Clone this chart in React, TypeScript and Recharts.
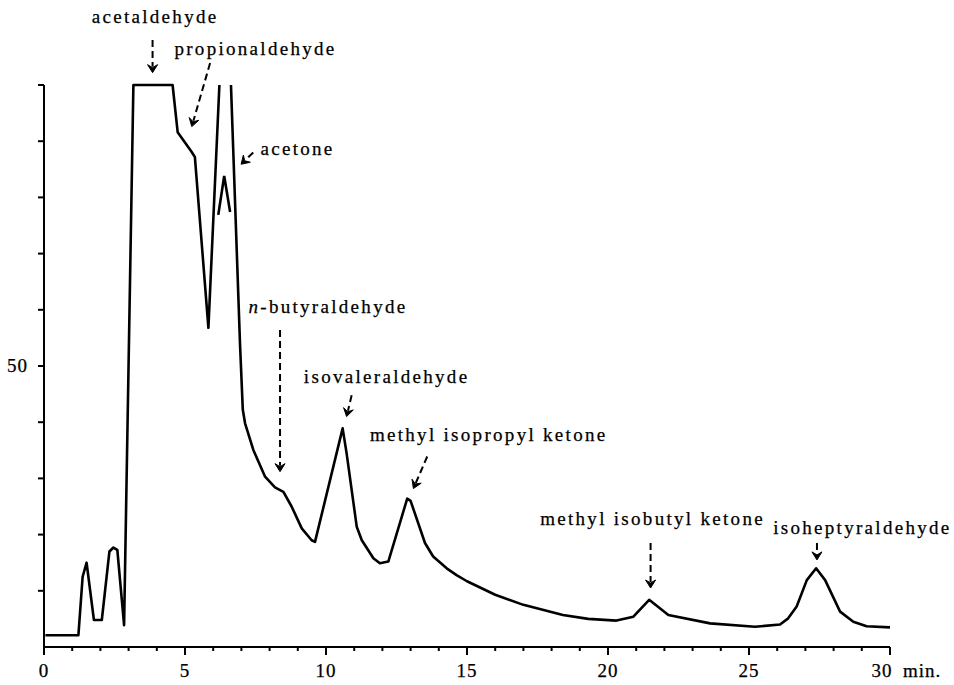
import { LineChart, Line, XAxis, YAxis, ReferenceDot, ReferenceLine } from "recharts";

const FONT = "Liberation Serif, DejaVu Serif, serif";

// recorder trace: retention time (min) and pen response (% of full scale)
const traceTime = [
  0.05, 1.22, 1.37, 1.51, 1.77, 2.05, 2.32, 2.46, 2.6, 2.84, 3.17, 4.56, 4.74, 5.22, 5.35, 5.83, 6.22,
  6.42, 6.63, 6.95, 7.05, 7.13, 7.42, 7.84, 8.19, 8.49, 8.78, 9.14, 9.49, 9.61, 10.59, 10.73, 11.09,
  11.27, 11.68, 11.91, 12.21, 12.88, 13.0, 13.51, 13.8, 14.28, 14.63, 15.0, 16.0, 17.0, 18.4,
  19.3, 20.3, 20.9, 21.46, 22.14, 23.62, 25.21, 26.1, 26.39, 26.69, 27.05, 27.38, 27.7, 28.23, 28.7,
  29.17, 30.0,
];
const traceSignal = [
  2.1, 2.1, 12.5, 15.0, 4.8, 4.8, 17.0, 17.7, 17.3, 3.9, 100, 100, 91.6, 88.2, 87.2, 56.8, 100,
  null, 100, 54.0, 42.2, 39.8, 35.1, 30.3, 28.4, 27.6, 25.0, 21.1, 19.0, 18.7, 38.9, 34.5, 21.4,
  19.0, 15.8, 14.9, 15.2, 26.4, 26.0, 18.5, 16.1, 14.0, 12.8, 11.7, 9.3, 7.5, 5.7,
  5.0, 4.7, 5.4, 8.4, 5.7, 4.2, 3.6, 4.0, 5.1, 7.2, 11.9, 14.0, 11.9, 6.3, 4.5,
  3.7, 3.5,
];

// the short stroke the pen left while the acetone peak was off scale
const offScaleTime = [6.18, 6.39, 6.6];
const offScaleSignal = [76.9, 83.8, 77.4];

const minuteTicks = [
  0, 1, 2, 3, 4, 5, 6, 7, 8, 9, 10, 11, 12, 13, 14, 15, 16, 17, 18, 19, 20, 21, 22, 23, 24, 25, 26,
  27, 28, 29, 30,
];
const levelTicks = [10, 20, 30, 40, 50, 60, 70, 80, 90, 100];

const compounds = [
  "acetaldehyde",
  "propionaldehyde",
  "acetone",
  "n-butyraldehyde",
  "isovaleraldehyde",
  "methyl isopropyl ketone",
  "methyl isobutyl ketone",
  "isoheptyraldehyde",
];
// [time, level] of each name's baseline centre
const labelAt: [number, number][] = [
  [3.94, 111.0], [7.5, 105.3], [8.99, 87.5], [10.07, 59.4],
  [12.15, 47.0], [15.77, 36.7], [21.58, 21.7], [29.02, 20.1],
];
const arrowFrom: [number, number][] = [
  [3.85, 108.0], [5.89, 103.9], [7.42, 88.0], [8.37, 56.4],
  [10.91, 44.8], [13.59, 33.9], [21.51, 18.5], [27.41, 18.5],
];
const arrowTo: [number, number][] = [
  [3.85, 102.2], [5.24, 92.6], [6.99, 85.9], [8.37, 31.2],
  [10.73, 41.0], [13.1, 28.2], [21.51, 10.5], [27.41, 15.5],
];

const trace = traceTime.map((t, i) => ({ t, signal: traceSignal[i] }));
const offScale = offScaleTime.map((t, i) => ({ t, signal: offScaleSignal[i] }));

const Label = ({ x, y, anchor, spacing = 2.3, children }: any) => (
  <text
    x={x}
    y={y}
    textAnchor={anchor}
    fontFamily={FONT}
    fontSize={19}
    letterSpacing={spacing}
    fill="#000"
    stroke="#000"
    strokeWidth={0.25}
  >
    {children}
  </text>
);

const XTick = ({ x, y, payload }: any) => {
  const v = payload.value;
  const major = v % 5 === 0;
  return (
    <g>
      <line x1={x} x2={x} y1={y} y2={y + (major ? 8 : 4)} stroke="#000" strokeWidth={2} />
      {major && (
        <Label x={v === 30 ? x - 8 : x} y={y + 30} anchor="middle" spacing={1}>
          {v}
        </Label>
      )}
      {v === 30 && (
        <Label x={x + 13} y={y + 30} anchor="start" spacing={1}>
          min.
        </Label>
      )}
    </g>
  );
};

const YTick = ({ x, y, payload }: any) =>
  payload.value === 50 ? (
    <Label x={x} y={y + 6} anchor="end" spacing={1}>
      50
    </Label>
  ) : (
    <g />
  );

const Arrow = ({ x1, y1, x2, y2 }: any) => {
  const len = Math.hypot(x2 - x1, y2 - y1) || 1;
  const dx = (x2 - x1) / len;
  const dy = (y2 - y1) / len;
  const nx = -dy;
  const ny = dx;
  const head = `${x2},${y2} ${x2 - dx * 8 + nx * 5},${y2 - dy * 8 + ny * 5} ${x2 - dx * 5},${y2 - dy * 5} ${x2 - dx * 8 - nx * 5},${y2 - dy * 8 - ny * 5}`;
  return (
    <g>
      <line
        x1={x1}
        y1={y1}
        x2={x2 - dx * 6}
        y2={y2 - dy * 6}
        stroke="#000"
        strokeWidth={2}
        strokeDasharray="7 4"
      />
      <polygon points={head} fill="#000" stroke="#000" strokeWidth={1} strokeLinejoin="round" />
    </g>
  );
};

const NameLabel = (name: string) => (p: any) => (
  <Label x={p.cx} y={p.cy} anchor="middle">
    {name.startsWith("n-") ? (
      <>
        <tspan fontStyle="italic">n</tspan>
        {name.slice(1)}
      </>
    ) : (
      name
    )}
  </Label>
);

export default function App() {
  return (
    <div style={{ position: "absolute", left: 0, top: 0, width: 954, height: 685, background: "#fff" }}>
      <LineChart width={954} height={685} margin={{ top: 85, right: 64, bottom: 0, left: 0 }}>
        <XAxis
          type="number"
          dataKey="t"
          domain={[0, 30]}
          ticks={minuteTicks}
          interval={0}
          height={38}
          tickSize={0}
          tickMargin={0}
          tickLine={false}
          axisLine={{ stroke: "#000", strokeWidth: 2 }}
          tick={XTick}
        />
        <YAxis
          type="number"
          domain={[0, 100]}
          ticks={levelTicks}
          interval={0}
          width={44}
          tickSize={6}
          tickMargin={10}
          axisLine={{ stroke: "#000", strokeWidth: 2 }}
          tickLine={{ stroke: "#000", strokeWidth: 2 }}
          tick={YTick}
        />
        <Line
          data={trace}
          dataKey="signal"
          type="linear"
          stroke="#000"
          strokeWidth={2.6}
          strokeLinejoin="round"
          dot={false}
          connectNulls={false}
          isAnimationActive={false}
        />
        <Line
          data={offScale}
          dataKey="signal"
          type="linear"
          stroke="#000"
          strokeWidth={2.6}
          dot={false}
          isAnimationActive={false}
        />
        {compounds.map((name, i) => (
          <ReferenceLine
            key={`a-${name}`}
            segment={[
              { x: arrowFrom[i][0], y: arrowFrom[i][1] },
              { x: arrowTo[i][0], y: arrowTo[i][1] },
            ]}
            ifOverflow="visible"
            shape={Arrow}
          />
        ))}
        {compounds.map((name, i) => (
          <ReferenceDot
            key={`l-${name}`}
            x={labelAt[i][0]}
            y={labelAt[i][1]}
            r={0}
            ifOverflow="visible"
            shape={NameLabel(name)}
          />
        ))}
      </LineChart>
    </div>
  );
}
